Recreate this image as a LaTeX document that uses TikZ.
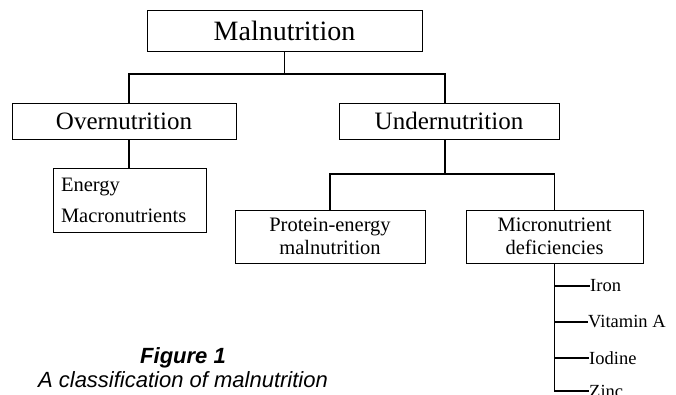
\documentclass[tikz,border=0pt]{standalone}
\usepackage{fontspec}
\setmainfont{Liberation Serif}
\newfontfamily\capfont{Liberation Sans}
\begin{document}
\begin{tikzpicture}[x=1pt,y=-1pt,
  box/.style={draw=black, line width=0.9pt, inner sep=0pt, align=center},
  conn/.style={draw=black, line width=1.7pt},
  tick/.style={draw=black, line width=1.5pt},
  item/.style={anchor=west, inner sep=0pt, font=\fontsize{18.5}{21}\selectfont},
]
\useasboundingbox (0,0) rectangle (676,394);
\node[box, minimum width=275pt, minimum height=41pt, font=\fontsize{28}{30}\selectfont] (mal) at (284.5,30.5) {Malnutrition};
\node[box, minimum width=224pt, minimum height=36pt, font=\fontsize{25}{27}\selectfont] (over) at (124,121) {Overnutrition};
\node[box, minimum width=220pt, minimum height=36pt, font=\fontsize{25}{27}\selectfont] (under) at (449,121) {Undernutrition};
\node[box, minimum width=153pt, minimum height=64pt, text width=137pt, inner xsep=8pt, align=left, font=\fontsize{20.5}{31}\selectfont] (energy) at (129.5,200) {Energy\\Macronutrients};
\node[box, minimum width=190pt, minimum height=53pt, font=\fontsize{20.5}{22.5}\selectfont] (protein) at (330,236.5) {Protein-energy\\malnutrition};
\node[box, minimum width=177pt, minimum height=53pt, font=\fontsize{20.5}{22.5}\selectfont] (micro) at (554.5,236.5) {Micronutrient\\deficiencies};
% connectors
\coordinate (j1) at (284.5,74);
\coordinate (on) at ([xshift=5pt]over.north);
\coordinate (os) at ([xshift=5pt]over.south);
\coordinate (un) at ([xshift=-4pt]under.north);
\coordinate (us) at ([xshift=-4pt]under.south);
\draw[conn] (mal.south) -- (j1);
\draw[conn] (on) |- (j1) -| (un);
\draw[conn] (os) -- (energy.north -| os);
\coordinate (j2) at (445,174);
\draw[conn] (us) -- (j2);
\draw[conn] (protein.north) |- (j2) -| (micro.north);
% items
\node[item] (iron) at (590,286) {Iron};
\node[item] (vita) at (588,322) {Vitamin A};
\node[item] (iod) at (589,358) {Iodine};
\node[item] (zinc) at (589,391) {Zinc};
\coordinate (s4) at (554.5,391);
\draw[tick] (micro.south) -- (s4) -- (zinc.west);
\draw[tick] (iron.west -| s4) -- (iron.west);
\draw[tick] (vita.west -| s4) -- (vita.west);
\draw[tick] (iod.west -| s4) -- (iod.west);
% caption
\node[anchor=base, inner sep=0pt, font=\capfont\bfseries\itshape\fontsize{22}{24}\selectfont] (fig) at (183,363) {Figure 1};
\node[anchor=base, inner sep=0pt, font=\capfont\itshape\fontsize{22}{24}\selectfont] (cap) at (183,387) {A classification of malnutrition};
\end{tikzpicture}
\end{document}
